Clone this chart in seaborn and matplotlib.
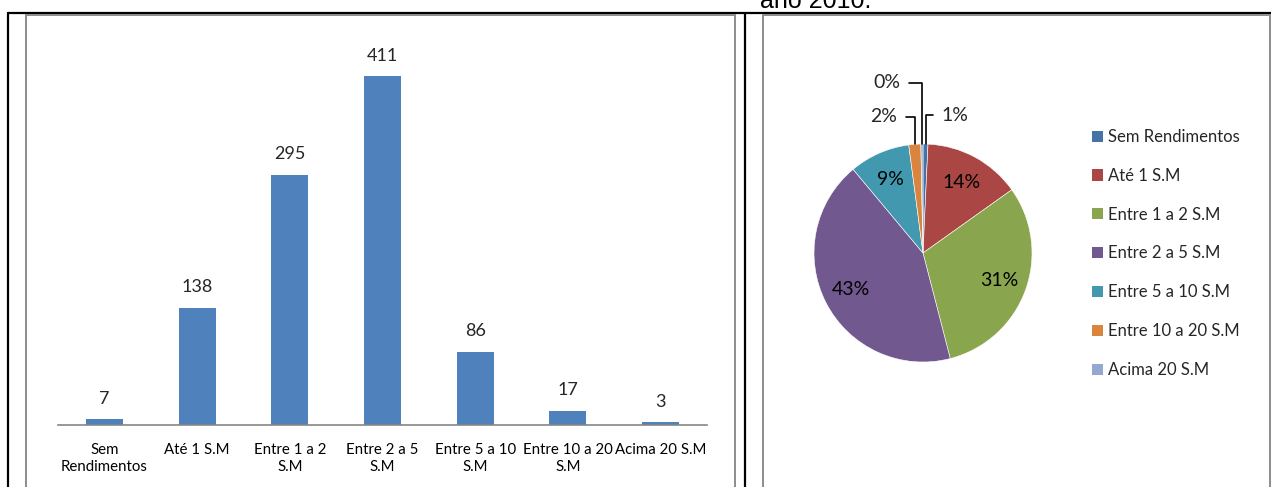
"""Renda familiar dos entrevistados (2010): barras com contagem e pizza com percentuais."""
import matplotlib
matplotlib.use("Agg")
import matplotlib.pyplot as plt
import numpy as np
import pandas as pd
import seaborn as sns
from matplotlib.lines import Line2D
from matplotlib.patches import Patch

# dados
faixas = [
    "Sem Rendimentos",
    "Até 1 S.M",
    "Entre 1 a 2 S.M",
    "Entre 2 a 5 S.M",
    "Entre 5 a 10 S.M",
    "Entre 10 a 20 S.M",
    "Acima 20 S.M",
]
rotulos_eixo = [
    "Sem\nRendimentos",
    "Até 1 S.M",
    "Entre 1 a 2\nS.M",
    "Entre 2 a 5\nS.M",
    "Entre 5 a 10\nS.M",
    "Entre 10 a 20\nS.M",
    "Acima 20 S.M",
]
quantidades = [7, 138, 295, 411, 86, 17, 3]
titulo_cortado = "ano 2010."

COR_BARRA = "#4F81BD"
CORES_PIZZA = ["#4572A7", "#AA4643", "#89A54E", "#71588F", "#4198AF", "#DB843D", "#93A9CF"]

W, H = 1271, 487
DPI = 100

sns.set_style("white")
plt.rcParams["font.family"] = ["Lato", "DejaVu Sans"]


def fx(x):
    return x / W


def fy(y):
    return 1 - y / H


def box(left, top, right, bottom):
    return [fx(left), fy(bottom), fx(right) - fx(left), fy(top) - fy(bottom)]


fig = plt.figure(figsize=(W / DPI, H / DPI), dpi=DPI)

# moldura da tabela e das duas áreas de gráfico
for xs, ys, cor, lw in [
    ([8, 8], [13, H + 5], "black", 1.6),
    ([745, 745], [13, H + 5], "black", 1.6),
    ([8, W + 5], [13, 13], "black", 1.6),
    ([26, 26], [14.5, H + 5], "#8c8c8c", 1.4),
    ([735, 735], [14.5, H + 5], "#8c8c8c", 1.4),
    ([26, 735], [14.5, 14.5], "#8c8c8c", 1.4),
    ([763, 763], [14.5, H + 5], "#8c8c8c", 1.4),
    ([1270, 1270], [14.5, H + 5], "#8c8c8c", 1.4),
    ([763, 1270], [14.5, 14.5], "#8c8c8c", 1.4),
]:
    fig.add_artist(Line2D([fx(v) for v in xs], [fy(v) for v in ys], color=cor, lw=lw))

fig.text(fx(760), fy(8), titulo_cortado, family="Liberation Sans", fontsize=18,
         va="baseline", ha="left", color="black")

# --- gráfico de barras ---
df = pd.DataFrame({"faixa": rotulos_eixo, "qtd": quantidades})
ax = fig.add_axes(box(58, 425 - 382.1, 707, 425))
sns.barplot(data=df, x="faixa", y="qtd", color=COR_BARRA, width=0.4,
            saturation=1, linewidth=0, ax=ax)
ax.set_ylim(0, 450)
ax.set_xlim(-0.5, len(rotulos_eixo) - 0.5)
ax.set_xlabel("")
ax.set_ylabel("")
ax.set_yticks([])
for lado in ["left", "right", "top"]:
    ax.spines[lado].set_visible(False)
ax.spines["bottom"].set_color("#868686")
ax.spines["bottom"].set_linewidth(1.2)
ax.tick_params(axis="x", length=0, pad=13, labelsize=10.8, colors="black")
for t in ax.get_xticklabels():
    t.set_linespacing(1.3)
ax.bar_label(ax.containers[0], padding=9, fontsize=13)
ax.patch.set_alpha(0)

# --- gráfico de pizza ---
raio_px = 109
cx, cy = 923, 253
lim = 1.25
axp = fig.add_axes(box(cx - lim * raio_px, cy - lim * raio_px, cx + lim * raio_px, cy + lim * raio_px))
total = sum(quantidades)
pcts = np.array(quantidades) / total * 100

wedges, _, autotexts = axp.pie(
    quantidades,
    colors=CORES_PIZZA,
    startangle=90,
    counterclock=False,
    autopct=lambda p: f"{p:.0f}%" if p >= 3 else "",
    pctdistance=0.74,
    wedgeprops=dict(edgecolor="white", linewidth=0.4),
    textprops=dict(fontsize=14, color="black"),
)
axp.set_xlim(-lim, lim)
axp.set_ylim(-lim, lim)
axp.set_aspect("equal")

# rótulos externos das fatias pequenas, com linha de chamada
pos_externa = {0: (0.294, 1.266), 5: (-0.358, 1.248), 6: (-0.330, 1.564)}
for i, (tx, ty) in pos_externa.items():
    w = wedges[i]
    ang = np.deg2rad((w.theta1 + w.theta2) / 2)
    px, py = np.cos(ang), np.sin(ang)
    axp.annotate(
        f"{pcts[i]:.0f}%", xy=(px, py), xytext=(tx, ty),
        ha="center", va="center", fontsize=14,
        arrowprops=dict(arrowstyle="-", color="black", lw=1.2,
                        connectionstyle="angle,angleA=0,angleB=90,rad=0",
                        shrinkA=4, shrinkB=0),
    )

handles = [Patch(facecolor=c, edgecolor="none") for c in CORES_PIZZA]
fig.legend(handles, faixas, loc="upper left", bbox_to_anchor=(fx(1092), fy(129)),
           frameon=False, fontsize=12, borderpad=0, borderaxespad=0,
           handlelength=0.65, handleheight=0.65, handletextpad=0.3,
           labelspacing=1.37)

fig.savefig("out.png", dpi=DPI)
